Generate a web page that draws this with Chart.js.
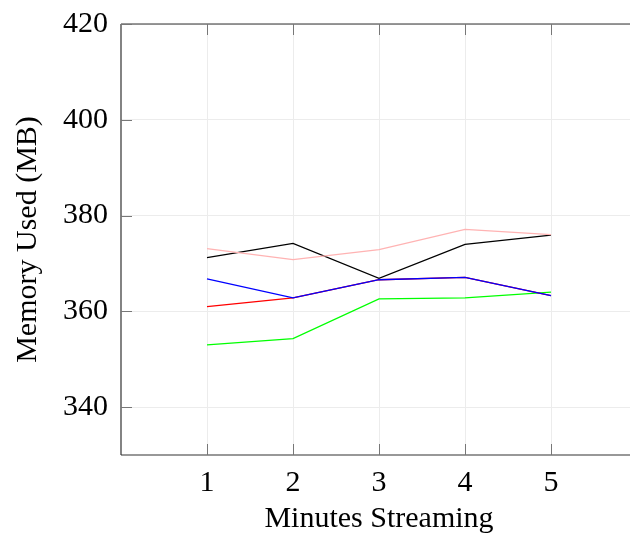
<!DOCTYPE html>
<html>
<head>
<meta charset="utf-8">
<script src="https://cdn.jsdelivr.net/npm/chart.js@4/dist/chart.umd.min.js"></script>
<style>
html,body{margin:0;padding:0;background:#fff;overflow:hidden;}
#wrap{width:630px;height:537px;overflow:hidden;position:relative;}
#box{width:640px;height:537px;position:absolute;left:0;top:0;}
</style>
</head>
<body>
<div id="wrap"><div id="box"><canvas id="c" width="640" height="537"></canvas></div></div>
<script>
const minutes = [1, 2, 3, 4, 5];
const yTicks = [340, 360, 380, 400, 420];
const xTicks = [1, 2, 3, 4, 5];
const seriesPink  = [373.1, 370.8, 372.9, 377.1, 376.0];
const seriesBlack = [371.2, 374.2, 366.9, 374.0, 375.9];
const seriesRed   = [361.0, 362.8, 366.6, 367.1, 363.3];
const seriesBlue  = [366.8, 362.8, 366.6, 367.1, 363.3];
const seriesGreen = [353.0, 354.3, 362.6, 362.8, 364.0];

const FONT = "'Liberation Serif', 'DejaVu Serif', serif";

function pts(arr){ return arr.map((v,i)=>({x:minutes[i], y:v})); }
function ds(data,color){
  return {data:pts(data), borderColor:color, backgroundColor:color, borderWidth:1.3,
          pointRadius:0, tension:0, fill:false};
}

const innerTicks = {
  id:'innerTicks',
  afterDatasetsDraw(chart){
    const ctx = chart.ctx, a = chart.chartArea;
    const xs = chart.scales.x, ys = chart.scales.y;
    ctx.save();
    ctx.strokeStyle = '#333';
    ctx.lineWidth = 1.2;
    ctx.beginPath();
    ctx.moveTo(a.left, a.top); ctx.lineTo(a.right+10, a.top);
    ctx.moveTo(a.left, a.top); ctx.lineTo(a.left, a.bottom);
    ctx.moveTo(a.left, a.bottom); ctx.lineTo(a.right+10, a.bottom);
    ctx.stroke();
    ctx.strokeStyle = '#777';
    ctx.lineWidth = 1;
    ctx.beginPath();
    xTicks.forEach(t=>{
      const px = Math.round(xs.getPixelForValue(t))+0.5;
      ctx.moveTo(px, a.bottom); ctx.lineTo(px, a.bottom-11);
      ctx.moveTo(px, a.top); ctx.lineTo(px, a.top+11);
    });
    yTicks.forEach(t=>{
      const py = Math.round(ys.getPixelForValue(t))+0.5;
      ctx.moveTo(a.left, py); ctx.lineTo(a.left+11, py);
    });
    ctx.stroke();
    ctx.restore();
  }
};

new Chart(document.getElementById('c'), {
  type:'line',
  data:{datasets:[
    ds(seriesPink,'#ffb3b3'),
    ds(seriesBlack,'#000000'),
    ds(seriesBlue,'#0000ff'),
    ds(seriesRed,'#ff0000'),
    ds(seriesGreen,'#00ff00')
  ]},
  options:{
    responsive:false,
    animation:false,
    layout:{padding:{top:24,right:3,left:0,bottom:0}},
    plugins:{legend:{display:false},tooltip:{enabled:false}},
    scales:{
      x:{
        type:'linear', min:0, max:6,
        afterBuildTicks(s){ s.ticks = xTicks.map(v=>({value:v})); },
        afterFit(s){ s.height = 82; s.paddingLeft = 0; s.paddingRight = 0; },
        grid:{color:'#ececec', lineWidth:1, drawTicks:false},
        border:{display:false},
        ticks:{padding:10, color:'#000', font:{family:FONT, size:30}},
        title:{display:true, text:'Minutes Streaming', color:'#000',
               font:{family:FONT, size:30}, padding:{top:0,bottom:0}}
      },
      y:{
        type:'linear', min:330, max:420,
        afterBuildTicks(s){ s.ticks = yTicks.map(v=>({value:v})); },
        afterFit(s){ s.width = 121; s.paddingTop = 0; s.paddingBottom = 0; },
        grid:{color:'#ececec', lineWidth:1, drawTicks:false},
        border:{display:false},
        ticks:{padding:13, color:'#000', font:{family:FONT, size:30}},
        title:{display:true, text:'Memory Used (MB)', color:'#000',
               font:{family:FONT, size:30}, padding:{top:10,bottom:0}}
      }
    }
  },
  plugins:[innerTicks]
});
</script>
</body>
</html>
